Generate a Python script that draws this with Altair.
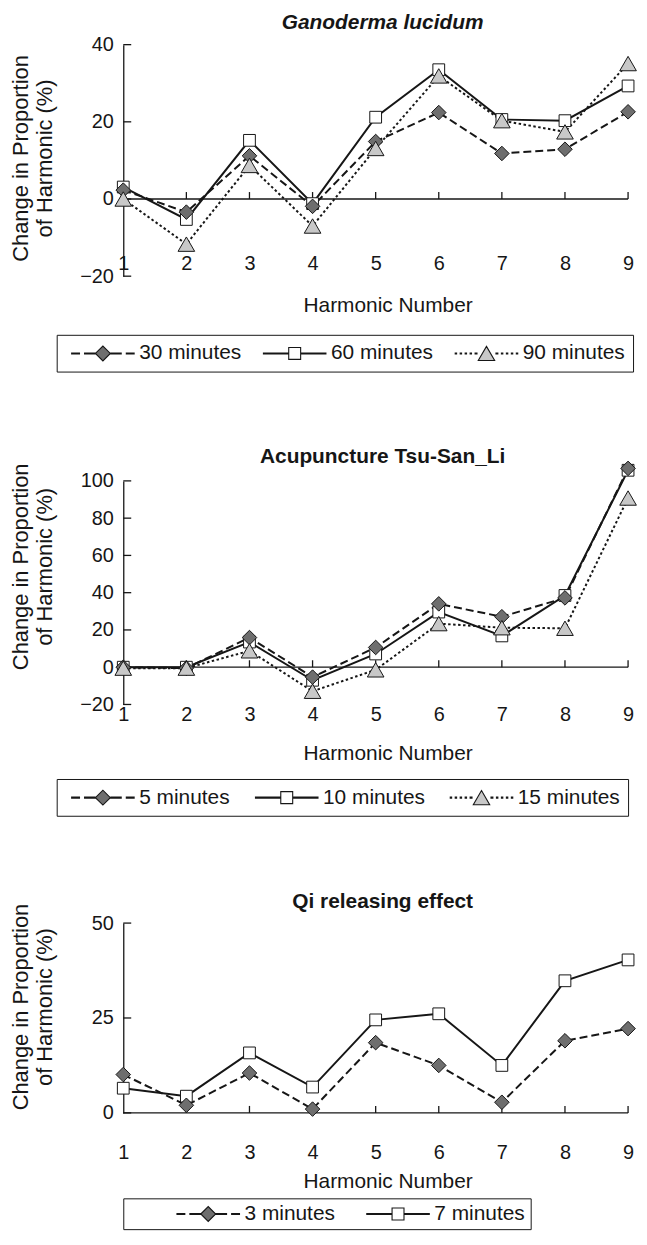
import altair as alt
import pandas as pd

# ---------------- data ----------------
harmonics = [1, 2, 3, 4, 5, 6, 7, 8, 9]

gano_series = ["30 minutes", "60 minutes", "90 minutes"]
gano_30 = [2.3, -3.4, 11.2, -1.9, 14.9, 22.4, 11.8, 12.9, 22.6]
gano_60 = [3.1, -5.3, 15.2, -1.2, 21.2, 33.5, 20.6, 20.3, 29.3]
gano_90 = [0.0, -11.7, 8.7, -7.0, 13.1, 31.9, 20.3, 17.4, 35.1]
gano_ticks = [-20, 0, 20, 40]

acu_series = ["5 minutes", "10 minutes", "15 minutes"]
acu_5 = [0.0, -0.5, 15.9, -5.3, 10.6, 34.0, 27.1, 37.2, 106.7]
acu_10 = [0.0, 0.0, 13.5, -7.0, 7.1, 29.6, 16.8, 38.5, 105.7]
acu_15 = [-0.5, -0.5, 8.8, -12.9, -1.4, 23.4, 21.2, 20.9, 90.8]
acu_ticks = [-20, 0, 20, 40, 60, 80, 100]

qi_series = ["3 minutes", "7 minutes"]
qi_3 = [10.1, 2.0, 10.5, 1.0, 18.5, 12.5, 2.8, 19.0, 22.2]
qi_7 = [6.5, 4.4, 15.8, 6.8, 24.5, 26.1, 12.5, 34.8, 40.3]
qi_ticks = [0, 25, 50]

# ---------------- styles ----------------
FONT = "Liberation Sans"
INK = "#161616"
PLOT_W = 508


def seg_path(segments_px, scale=7.5, half=0.07):
    out = []
    for a, b in segments_px:
        for dy in (-half, half):
            out.append(f"M{a/scale:.3f},{dy:.3f}L{b/scale:.3f},{dy:.3f}")
    return "".join(out)


DIAMOND_P = "M-1,0L0,-1L1,0L0,1Z"
SQUARE_P = "M-0.8,-0.8L0.8,-0.8L0.8,0.8L-0.8,0.8Z"
TRI_P = "M0,-0.95L1.1,0.95L-1.1,0.95Z"

STYLES = [
    dict(dash=[8, 4], shape="diamond", fill="#6e6e6e", size=215,
         legend=seg_path([(-32, -23), (-19, -7.5), (7.5, 19), (23, 32)]) + DIAMOND_P),
    dict(dash=None, shape="square", fill="#ffffff", size=140,
         legend=seg_path([(-32, -6), (6, 32)]) + SQUARE_P),
    dict(dash=[2.5, 2.5], shape="triangle-up", fill="#c8c8c8", size=280,
         legend=seg_path([(-32, -29.5), (-27, -24.5), (-22, -19.5), (-17, -14.5), (-12, -9),
                          (9, 12), (14.5, 17), (19.5, 22), (24.5, 27), (29.5, 32)]) + TRI_P),
]
MARKER_ORDER = [1, 0, 2]


def make_panel(key, title, italic, series, values, ticks, height, title_offset, ytitle_y,
               xlabel_pad, xtitle_y, legend_x, legend_y, col_pad, leg_pad=8,
               lead_space=None, label_expr=None):
    styles = STYLES[:len(series)]
    fld = "series_" + key
    rows = [{"harmonic": h, "value": v, fld: s}
            for s, vals in zip(series, values) for h, v in zip(harmonics, vals)]
    df = pd.DataFrame(rows)

    xenc = alt.X("harmonic:Q",
                 scale=alt.Scale(domain=[1, 9], nice=False, zero=False),
                 axis=alt.Axis(values=harmonics, format="d", ticks=False, domain=False, grid=False,
                               labelFont=FONT, labelFontSize=20, labelColor=INK, labelAngle=0,
                               labelFlush=False, labelPadding=xlabel_pad, labelOverlap=False,
                               title="Harmonic Number", titleFont=FONT, titleFontSize=21,
                               titleFontWeight="normal", titleColor=INK, titleX=266, titleY=xtitle_y,
                               titleAlign="center", titleBaseline="middle"))
    yenc = alt.Y("value:Q",
                 scale=alt.Scale(domain=[ticks[0], ticks[-1]], nice=False, zero=False),
                 axis=alt.Axis(values=ticks, format="d", ticks=False, domain=True, grid=False,
                               domainColor=INK, domainWidth=1.3,
                               labelFont=FONT, labelFontSize=20, labelColor=INK, labelPadding=10,
                               title=["Change in Proportion", "of Harmonic (%)"],
                               titleFont=FONT, titleFontSize=22, titleFontWeight="normal",
                               titleColor=INK, titleAngle=-90, titleX=-113, titleY=ytitle_y,
                               titleAlign="center", titleBaseline="top", titleLineHeight=24))

    layers = []
    layers.append(alt.Chart(pd.DataFrame({"value": [0]}))
                  .mark_rule(color=INK, strokeWidth=1.3)
                  .encode(y=yenc))
    layers.append(alt.Chart(pd.DataFrame({"harmonic": harmonics[1:], "value": [0] * 8}))
                  .mark_tick(orient="vertical", size=7, thickness=1.3, color=INK, yOffset=-3.5, opacity=1)
                  .encode(x=xenc, y=yenc))
    layers.append(alt.Chart(pd.DataFrame({"harmonic": [1] * len(ticks), "value": ticks}))
                  .mark_tick(orient="horizontal", size=8, thickness=1.3, color=INK, xOffset=4, opacity=1)
                  .encode(x=xenc, y=yenc))
    for s, st in zip(series, styles):
        kw = dict(color=INK, strokeWidth=2)
        if st["dash"]:
            kw["strokeDash"] = st["dash"]
        layers.append(alt.Chart(df).transform_filter(alt.datum[fld] == s)
                      .mark_line(**kw).encode(x=xenc, y=yenc, order="harmonic:Q"))
    for i in MARKER_ORDER:
        if i >= len(series):
            continue
        s, st = series[i], styles[i]
        layers.append(alt.Chart(df).transform_filter(alt.datum[fld] == s)
                      .mark_point(shape=st["shape"], filled=True, fill=st["fill"], stroke=INK,
                                  strokeWidth=1, size=st["size"], opacity=1)
                      .encode(x=xenc, y=yenc))
    leg_kw = dict(orient="none", legendX=legend_x, legendY=legend_y, direction="horizontal",
                  columns=len(series), title=None, labelFont=FONT, labelFontSize=21,
                  labelColor=INK, labelOffset=26, symbolOffset=28, symbolSize=225,
                  symbolStrokeWidth=1.1, symbolStrokeColor=INK, symbolOpacity=1,
                  columnPadding=col_pad, padding=leg_pad, strokeColor=INK, labelLimit=400)
    if lead_space is not None:
        leg_kw.update(title="\u00a0", titleOrient="left", titlePadding=lead_space,
                      titleFont=FONT, titleFontSize=21)
    if label_expr:
        leg_kw["labelExpr"] = label_expr
    layers.append(alt.Chart(df).transform_filter("false")
                  .mark_point(filled=True, opacity=1)
                  .encode(x=xenc, y=yenc,
                          shape=alt.Shape(f"{fld}:N", scale=alt.Scale(domain=series, range=[st["legend"] for st in styles]),
                                          legend=alt.Legend(**leg_kw)),
                          fill=alt.Fill(f"{fld}:N", scale=alt.Scale(domain=series, range=[st["fill"] for st in styles])),
                          stroke=alt.Stroke(f"{fld}:N", scale=alt.Scale(domain=series, range=[INK] * len(series)))))

    return alt.layer(*layers).properties(
        width=PLOT_W, height=height,
        title=alt.TitleParams(title, font=FONT, fontSize=21, fontWeight="bold",
                              fontStyle="italic" if italic else "normal", color=INK,
                              anchor="middle", dx=7, offset=title_offset))


FS = "\u2007" * 4
p1 = make_panel("g", "Ganoderma lucidum", True, gano_series, [gano_30, gano_60, gano_90], gano_ticks,
                height=233, title_offset=1.5, ytitle_y=114, xlabel_pad=-23, xtitle_y=30,
                legend_x=-67, legend_y=292, col_pad=15)
p2 = make_panel("a", "Acupuncture Tsu-San_Li", False, acu_series, [acu_5, acu_10, acu_15], acu_ticks,
                height=225, title_offset=-8, ytitle_y=86, xlabel_pad=0, xtitle_y=49,
                legend_x=-67, legend_y=300, col_pad=18)
p3 = make_panel("q", "Qi releasing effect", False, qi_series, [qi_3, qi_7], qi_ticks,
                height=191, title_offset=-8.5, ytitle_y=84, xlabel_pad=30, xtitle_y=69,
                legend_x=0, legend_y=277, col_pad=24, leg_pad=5, lead_space=42,
                label_expr=f"datum.value == '7 minutes' ? datum.label + '{FS}' : datum.label")

chart = (alt.vconcat(p1, p2, p3, spacing=74)
         .resolve_scale(shape="independent", fill="independent", stroke="independent")
         .resolve_legend(shape="independent", fill="independent", stroke="independent")
         .properties(padding={"left": 1, "top": 0, "right": 0, "bottom": 0})
         .configure_view(stroke=None))

chart.save("out.html", embed_options={"renderer": "svg", "actions": False})
